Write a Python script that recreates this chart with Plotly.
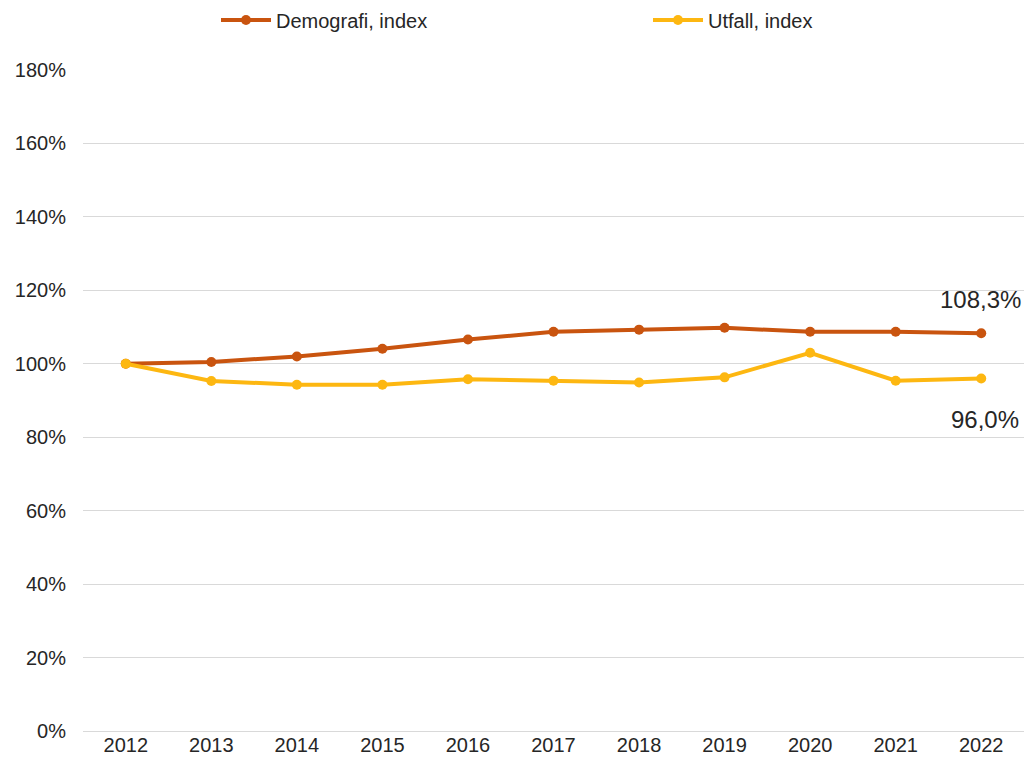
import plotly.graph_objects as go

years = ["2012", "2013", "2014", "2015", "2016", "2017", "2018", "2019", "2020", "2021", "2022"]
demografi = [100.0, 100.5, 102.0, 104.1, 106.6, 108.7, 109.3, 109.8, 108.7, 108.7, 108.3]
utfall = [100.0, 95.3, 94.3, 94.3, 95.8, 95.4, 94.9, 96.3, 103.0, 95.4, 96.0]
y_ticks = [0, 20, 40, 60, 80, 100, 120, 140, 160, 180]
y_ticktext = [f"{v}%" for v in y_ticks]

c_demo = "#C9540F"
c_utf = "#FDB711"
font_family = "Liberation Sans, Arial, sans-serif"
txt = "#262626"

fig = go.Figure()
fig.add_trace(go.Scatter(
    x=years, y=demografi, name="Demografi, index", mode="lines+markers",
    line=dict(color=c_demo, width=4), marker=dict(color=c_demo, size=10),
    legend="legend", showlegend=True,
))
fig.add_trace(go.Scatter(
    x=years, y=utfall, name="Utfall, index", mode="lines+markers",
    line=dict(color=c_utf, width=4), marker=dict(color=c_utf, size=10),
    legend="legend2", showlegend=True,
))

last = len(years) - 1
fig.add_annotation(x=last, y=demografi[-1], text="108,3%", showarrow=False,
                   yshift=34, xshift=-1, font=dict(size=24, color=txt, family=font_family))
fig.add_annotation(x=last, y=utfall[-1], text="96,0%", showarrow=False,
                   yshift=-41, xshift=4, font=dict(size=24, color=txt, family=font_family))

legend_common = dict(orientation="h", yanchor="middle", xanchor="left", itemwidth=50,
                     font=dict(size=20, color=txt, family=font_family),
                     bgcolor="rgba(0,0,0,0)", xref="container", yref="container",
                     visible=True)

fig.update_layout(
    width=1025, height=767, autosize=False, showlegend=True,
    margin=dict(l=83, r=1, t=70, b=36, autoexpand=False),
    plot_bgcolor="white", paper_bgcolor="white",
    font=dict(family=font_family, size=20, color=txt),
    legend=dict(**legend_common, x=216/1025, y=1 - 20/767),
    legend2=dict(**legend_common, x=648/1025, y=1 - 20/767),
    xaxis=dict(type="category", range=[-0.5, 10.5], showgrid=False, showline=False,
               ticks="", tickfont=dict(size=20, color=txt)),
    yaxis=dict(range=[0, 180], tickvals=y_ticks, ticktext=y_ticktext, showgrid=True,
               gridcolor="#D9D9D9", gridwidth=1, zeroline=True, zerolinecolor="#D9D9D9",
               zerolinewidth=1, showline=False, ticks="", ticklabelstandoff=16,
               tickfont=dict(size=20, color=txt)),
)

fig.write_html("out.html", config={"responsive": False, "displayModeBar": False},
               post_script="document.body.style.margin='0';document.body.style.overflow='hidden';")
